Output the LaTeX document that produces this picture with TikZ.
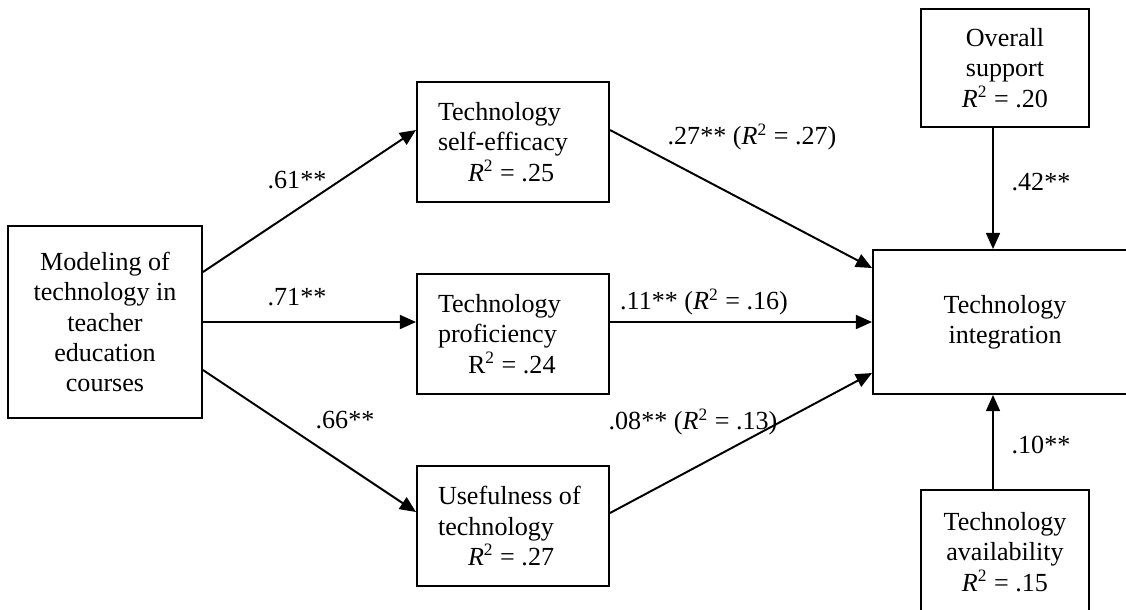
\documentclass[tikz,border=0pt]{standalone}
\usepackage{fontspec}
\setmainfont{Liberation Serif}
\usetikzlibrary{arrows.meta,calc}

\newcommand{\pxu}{0.46pt}
\newcommand{\rsq}{\textit{R}\textsuperscript{2}}

\begin{document}
\begin{tikzpicture}[
    x=\pxu, y=-\pxu,
    font=\fontsize{12}{14}\selectfont,
    caja/.style={draw,line width=0.9pt,inner sep=0pt,align=center},
    medio/.style={caja,minimum width=192*\pxu,minimum height=120*\pxu,
                  text width=150*\pxu,align=flush left},
    lado/.style={caja,minimum width=168*\pxu,minimum height=118*\pxu},
    flecha/.style={line width=0.9pt,-{Triangle[length=7.4pt,width=6.4pt]}},
    coef/.style={inner sep=0pt}]

  \useasboundingbox (0,0) rectangle (1126,609);

  %% ============================== cajas ====================================
  \node[caja,minimum width=194*\pxu,minimum height=192*\pxu] (modelado) at (105,322)
    {Modeling of\\technology in\\teacher\\education\\courses};
  \node[medio] (eficacia) at (513,142)
    {Technology\\self-efficacy\\\hspace*{13.8pt}\rsq{} = .25};
  \node[medio] (dominio) at (513,334)
    {Technology\\proficiency\\\hspace*{13.8pt}R\textsuperscript{2} = .24};
  \node[medio] (utilidad) at (513,526)
    {Usefulness of\\technology\\\hspace*{13.8pt}\rsq{} = .27};
  \node[caja,minimum width=264*\pxu,minimum height=144*\pxu] (integracion) at (1005,322)
    {Technology\\integration};
  \node[lado] (apoyo) at (1005,68) {Overall\\support\\\rsq{} = .20};
  \node[lado,minimum height=124*\pxu] (disponib) at (1005,552)
    {Technology\\availability\\\rsq{} = .15};

  %% ============================== flechas ==================================
  \draw[flecha] ($(modelado.east)+(0,-50)$) -- ($(eficacia.west)+(0,-12)$);
  \draw[flecha] (modelado.east) -- ($(dominio.west)+(0,-12)$);
  \draw[flecha] ($(modelado.east)+(0,48)$) -- ($(utilidad.west)+(0,-14)$);
  \draw[flecha] ($(eficacia.east)+(0,-12)$) -- ($(integracion.west)+(0,-54)$);
  \draw[flecha] ($(dominio.east)+(0,-12)$) -- (integracion.west);
  \draw[flecha] ($(utilidad.east)+(0,-13)$) -- ($(integracion.west)+(0,51)$);
  \draw[flecha] ($(apoyo.south)+(-12,0)$) -- ($(integracion.north)+(-12,0)$);
  \draw[flecha] ($(disponib.north)+(-12,0)$) -- ($(integracion.south)+(-12,0)$);

  %% ============================ coeficientes ===============================
  \node[coef] (b61) at (297,180) {.61**};
  \node[coef] (b71) at (297,297) {.71**};
  \node[coef] (b66) at (345,420) {.66**};
  \node[coef] (b27) at (752,137) {.27** (\rsq{} = .27)};
  \node[coef] (b11) at (704,302) {.11** (\rsq{} = .16)};
  \node[coef] (b08) at (693,422) {.08** (\rsq{} = .13)};
  \node[coef] (b42) at (1041,182) {.42**};
  \node[coef] (b10) at (1041,445) {.10**};

\end{tikzpicture}
\end{document}
